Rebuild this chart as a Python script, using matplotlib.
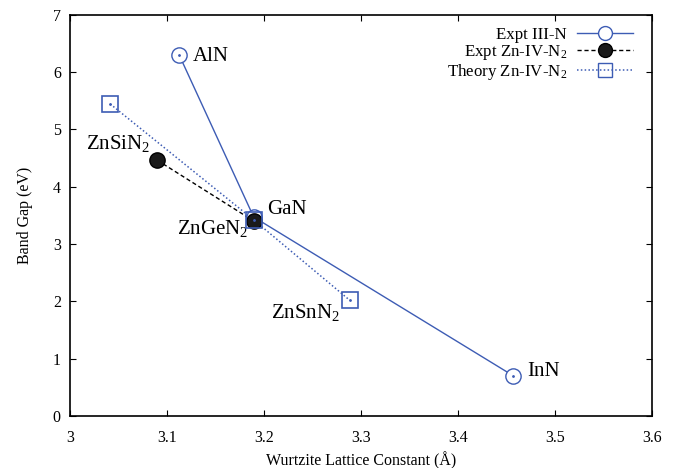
import numpy as np
import matplotlib
matplotlib.use("Agg")
import matplotlib.pyplot as plt
from matplotlib.lines import Line2D

plt.rcParams['font.family'] = ['Liberation Serif', 'DejaVu Serif']
plt.rcParams['mathtext.fontset'] = 'custom'
plt.rcParams['mathtext.rm'] = 'Liberation Serif'
plt.rcParams['mathtext.default'] = 'regular'

# data
iii_names = ["AlN", "GaN", "InN"]
iii_a = [3.112, 3.189, 3.457]
iii_gap = [6.30, 3.47, 0.70]

expt_names = ["ZnSiN$_2$", "ZnGeN$_2$"]
expt_a = [3.0895, 3.189]
expt_gap = [4.46, 3.40]

theo_names = ["ZnSiN$_2$", "ZnGeN$_2$", "ZnSnN$_2$"]
theo_a = [3.041, 3.189, 3.288]
theo_gap = [5.44, 3.42, 2.02]

blue = '#3d5cb4'

fig = plt.figure(figsize=(6.81, 4.68), dpi=100)
ax = fig.add_axes([0.1035, 0.111, 0.854, 0.858])

# lines first
ax.plot(iii_a, iii_gap, color=blue, lw=1.0, zorder=2)
ax.plot(expt_a, expt_gap, color='black', lw=1.0, ls=(0, (3, 2)), zorder=2)
ax.plot(theo_a, theo_gap, color=blue, lw=1.1, ls=(0, (1, 1.5)), zorder=2)

# markers on top
ax.plot(iii_a, iii_gap, ls='none', marker='o', ms=11, mfc='white', mec=blue, mew=1.0, zorder=3)
ax.plot(iii_a, iii_gap, ls='none', marker='.', ms=2, color=blue, zorder=3)
ax.plot(expt_a, expt_gap, ls='none', marker='o', ms=11, mfc='#1a1a1a', mec='black', mew=1.0, zorder=4)
ax.plot(theo_a, theo_gap, ls='none', marker='s', ms=11, mfc='none', mec=blue, mew=1.2, zorder=5)
ax.plot(theo_a, theo_gap, ls='none', marker='.', ms=2, color=blue, zorder=5)

# point labels
fs = 15
ax.annotate(iii_names[0], (iii_a[0], iii_gap[0]), xytext=(10, -1), textcoords='offset points',
            ha='left', va='center', fontsize=fs)
ax.annotate(iii_names[1], (iii_a[1], iii_gap[1]), xytext=(10, 2.5), textcoords='offset points',
            ha='left', va='baseline', fontsize=fs)
ax.annotate(iii_names[2], (iii_a[2], iii_gap[2]), xytext=(10, 0), textcoords='offset points',
            ha='left', va='baseline', fontsize=fs)
ax.annotate(expt_names[0], (expt_a[0], expt_gap[0]), xytext=(-5, 8), textcoords='offset points',
            ha='right', va='baseline', fontsize=fs)
ax.annotate(expt_names[1], (expt_a[1], expt_gap[1]), xytext=(-4, -9), textcoords='offset points',
            ha='right', va='baseline', fontsize=fs)
ax.annotate(theo_names[2], (theo_a[2], theo_gap[2]), xytext=(-7, -13), textcoords='offset points',
            ha='right', va='baseline', fontsize=fs)

ax.set_xlim(3.0, 3.6)
ax.set_ylim(0, 7)
ax.set_xticks(np.arange(3.0, 3.61, 0.1))
ax.set_xticklabels(['3', '3.1', '3.2', '3.3', '3.4', '3.5', '3.6'])
ax.set_yticks(range(0, 8))
ax.tick_params(direction='in', length=4.5, width=0.8, labelsize=11.5,
               top=True, right=True, pad=7)
ax.tick_params(axis='x', pad=10)
for s in ax.spines.values():
    s.set_linewidth(1.2)

ax.set_xlabel('Wurtzite Lattice Constant (Å)', fontsize=11.5, labelpad=4)
ax.set_ylabel('Band Gap (eV)', fontsize=11.5, labelpad=14)

handles = [
    Line2D([], [], color=blue, lw=1.0, marker='o', ms=10, mfc='white', mec=blue),
    Line2D([], [], color='black', lw=1.0, ls=(0, (3, 2)), marker='o', ms=10, mfc='#1a1a1a', mec='black'),
    Line2D([], [], color=blue, lw=1.1, ls=(0, (1, 1.5)), marker='s', ms=10, mfc='none', mec=blue),
]
labels = ['Expt III-N', 'Expt Zn-IV-N$_2$', 'Theory Zn-IV-N$_2$']
ax.legend(handles, labels, loc='upper right', bbox_to_anchor=(0.985, 0.995), frameon=False,
          markerfirst=False, fontsize=12.2, handlelength=3.3, handletextpad=0.6,
          labelspacing=0.0, borderaxespad=0.2)

fig.savefig('out.png', dpi=100)
